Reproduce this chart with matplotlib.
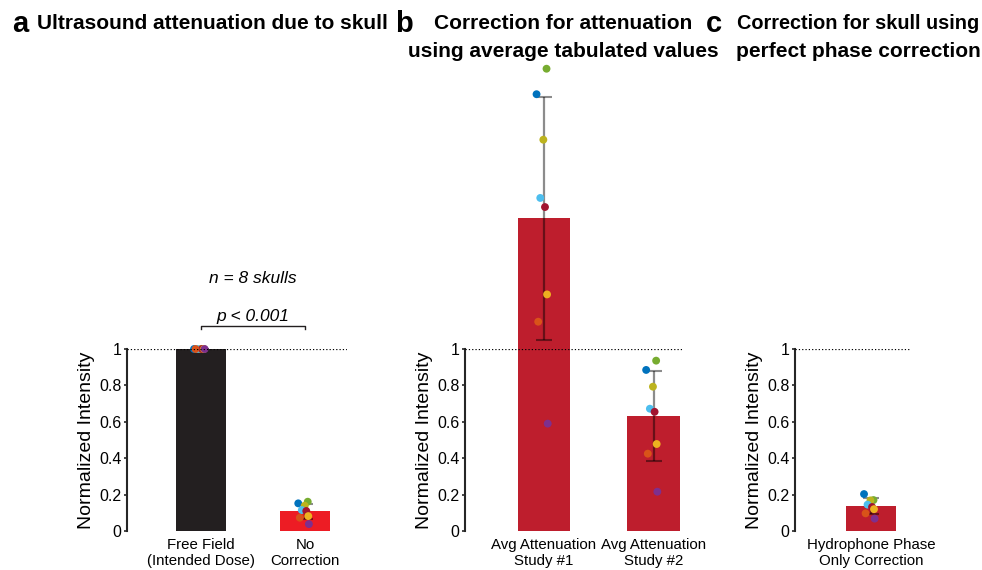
import matplotlib.pyplot as plt
import numpy as np

plt.rcParams['font.family'] = ['Liberation Sans', 'DejaVu Sans']

# skull colours, one per skull (same order in every list below)
skull_colors = ['#0072BD', '#77AC30', '#BCB31E', '#4DBEEE',
                '#A2142F', '#EDB120', '#D95319', '#7E2F8E']
jitter = np.array([-0.067, 0.024, -0.005, -0.033, 0.01, 0.029, -0.052, 0.035])

# normalized intensity per skull
free_field = [1, 1, 1, 1, 1, 1, 1, 1]
no_corr = [0.152, 0.161, 0.139, 0.115, 0.110, 0.082, 0.073, 0.038]
study1 = [2.40, 2.54, 2.15, 1.83, 1.78, 1.30, 1.15, 0.59]
study2 = [0.885, 0.936, 0.793, 0.672, 0.655, 0.478, 0.425, 0.216]
phase_only = [0.203, 0.170, 0.168, 0.145, 0.132, 0.120, 0.097, 0.068]

labels_a = ['Free Field\n(Intended Dose)', 'No\nCorrection']
labels_b = ['Avg Attenuation\nStudy #1', 'Avg Attenuation\nStudy #2']
labels_c = ['Hydrophone Phase\nOnly Correction']

fig = plt.figure(figsize=(9.82, 5.70), dpi=100)


def panel(rect, groups, labels, colors, xlim):
    ax = fig.add_axes(rect)
    xs = np.arange(1, len(groups) + 1)
    for x, vals, c in zip(xs, groups, colors):
        vals = np.array(vals)
        m = vals.mean()
        sd = vals.std(ddof=1)
        ax.bar(x, m, width=0.48, color=c, clip_on=False, zorder=1)
        _, caps, _ = ax.errorbar(x, m, yerr=sd, fmt='none', ecolor=(0, 0, 0, 0.45),
                                 elinewidth=1.6, capsize=5.5, capthick=1.5,
                                 clip_on=False, zorder=3)
        for cap in caps:
            cap.set_color('#231F20')
            cap.set_clip_on(False)
        ax.scatter(x + jitter, vals, s=32, c=skull_colors, linewidths=0,
                   clip_on=False, zorder=4)
    ax.axhline(1, ls=':', color='k', lw=0.9, zorder=5)
    ax.set_xlim(*xlim)
    ax.set_ylim(0, 1)
    ax.set_xticks(xs)
    ax.set_xticklabels(labels, fontsize=10.8, linespacing=1.15)
    ax.set_yticks([0, 0.2, 0.4, 0.6, 0.8, 1])
    ax.set_yticklabels(['0', '0.2', '0.4', '0.6', '0.8', '1'], fontsize=11.5)
    ax.tick_params(axis='x', length=0, pad=5)
    ax.tick_params(axis='y', direction='out', length=2.5, width=1.2, pad=1.5,
                   color='#262626')
    for s in ['top', 'right', 'bottom']:
        ax.spines[s].set_visible(False)
    ax.spines['left'].set_linewidth(1.5)
    ax.spines['left'].set_color('#262626')
    ax.set_ylabel('Normalized Intensity', fontsize=14, labelpad=3)
    ax.patch.set_alpha(0)
    return ax


ax_a = panel([0.1293, 0.0684, 0.2240, 0.3193], [free_field, no_corr], labels_a,
             ['#231F20', '#ED1C24'], (0.29, 2.40))
ax_b = panel([0.4735, 0.0684, 0.2210, 0.3193], [study1, study2], labels_b,
             ['#BE1E2D', '#BE1E2D'], (0.28, 2.26))
ax_c = panel([0.8096, 0.0684, 0.1171, 0.3193], [phase_only], labels_c,
             ['#BE1E2D'], (0.27, 1.375))

# significance bracket in panel a
ax_a.plot([1, 1, 2, 2], [1.112, 1.128, 1.128, 1.112], color='#231F20', lw=1,
          clip_on=False)
ax_a.text(1.5, 1.14, 'p < 0.001', style='italic', fontsize=12.5,
          ha='center', va='bottom')
ax_a.text(1.5, 1.39, 'n = 8 skulls', style='italic', fontsize=12.5,
          ha='center', va='center')

# panel titles
fig.text(0.012, 0.958, 'a', fontsize=21, fontweight='bold', va='center')
fig.text(0.038, 0.958, 'Ultrasound attenuation due to skull', fontsize=15,
         fontweight='bold', va='center')
fig.text(0.402, 0.958, 'b', fontsize=21, fontweight='bold', va='center')
fig.text(0.5735, 0.958, 'Correction for attenuation', fontsize=15,
         fontweight='bold', va='center', ha='center')
fig.text(0.5735, 0.909, 'using average tabulated values', fontsize=15,
         fontweight='bold', va='center', ha='center')
fig.text(0.719, 0.958, 'c', fontsize=21, fontweight='bold', va='center')
fig.text(0.8737, 0.958, 'Correction for skull using', fontsize=14.3,
         fontweight='bold', va='center', ha='center')
fig.text(0.8737, 0.909, 'perfect phase correction', fontsize=15,
         fontweight='bold', va='center', ha='center')

fig.savefig('out.png', dpi=100)
